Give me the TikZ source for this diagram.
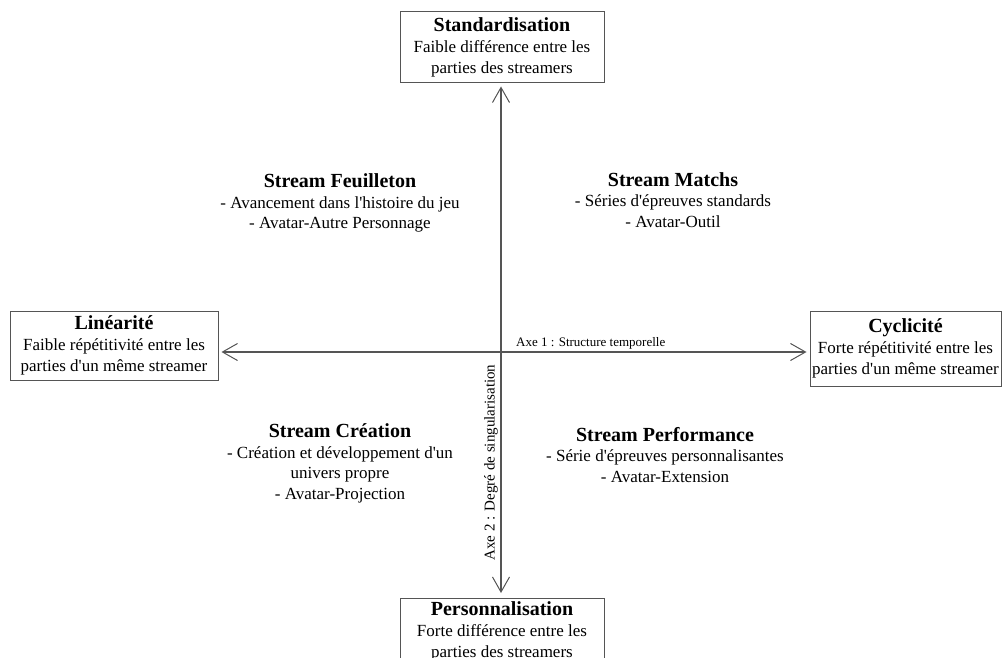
\documentclass[tikz,border=0pt]{standalone}
\usepackage{fontspec}
\setmainfont{Liberation Serif}
\usetikzlibrary{arrows.meta}
\definecolor{edge}{HTML}{555555}
\tikzset{
  box/.style={draw=edge, line width=1pt, inner sep=0pt, align=center, font=\fontsize{17}{21}\selectfont},
  quad/.style={inner sep=0pt, align=center, font=\fontsize{17}{20.5}\selectfont},
  axis/.style={draw=edge, line width=1.1pt, {Straight Barb[length=15pt,width=17pt,line width=1pt]}-{Straight Barb[length=15pt,width=17pt,line width=1pt]}},
  axlabel/.style={inner sep=0pt}
}
\newcommand{\ttlfont}{\fontsize{20}{21}\selectfont\bfseries}
\newcommand{\q}{\textquotesingle}
\begin{document}
\begin{tikzpicture}[x=1pt,y=-1pt]
\useasboundingbox (0,0) rectangle (1002,658);
\node[box, minimum width=204pt, minimum height=71pt] (tbox) at (502,47.5)
  {{\ttlfont Standardisation}\\Faible différence entre les\\parties des streamers};
\node[box, minimum width=208pt, minimum height=69pt] (lbox) at (114,345.5)
  {{\ttlfont Linéarité}\\Faible répétitivité entre les\\parties d\q un même streamer};
\node[box, minimum width=191pt, minimum height=75pt] (rbox) at (905.5,348.5)
  {{\ttlfont Cyclicité}\\Forte répétitivité entre les\\parties d\q un même streamer};
\node[box, minimum width=204pt, minimum height=66pt, anchor=north] (bbox) at (502,598)
  {{\ttlfont Personnalisation}\\Forte différence entre les\\parties des streamers};
\coordinate (O) at (501,352);
\draw[axis, shorten <=3pt, shorten >=3pt] (lbox.east |- O) -- (rbox.west |- O);
\draw[axis, shorten <=3pt, shorten >=5pt] (tbox.south -| O) -- (bbox.north -| O);
\node[axlabel, anchor=base west, font=\fontsize{13}{15}\selectfont] (ax1) at (516,346.5) {Axe 1 : Structure temporelle};
\node[axlabel, rotate=90, font=\fontsize{15}{17}\selectfont] (ax2) at (491,462.5) {Axe 2 : Degré de singularisation};
\node[quad] (feuil) at (340,203)
  {{\ttlfont Stream Feuilleton}\\- Avancement dans l\q histoire du jeu\\- Avatar-Autre Personnage};
\node[quad] (match) at (673,200)
  {{\ttlfont Stream Matchs}\\- Séries d\q épreuves standards\\- Avatar-Outil};
\node[quad] (creat) at (340,463.5)
  {{\ttlfont Stream Création}\\- Création et développement d\q un\\univers propre\\- Avatar-Projection};
\node[quad] (perf) at (665,455)
  {{\ttlfont Stream Performance}\\- Série d\q épreuves personnalisantes\\- Avatar-Extension};
\end{tikzpicture}
\end{document}
